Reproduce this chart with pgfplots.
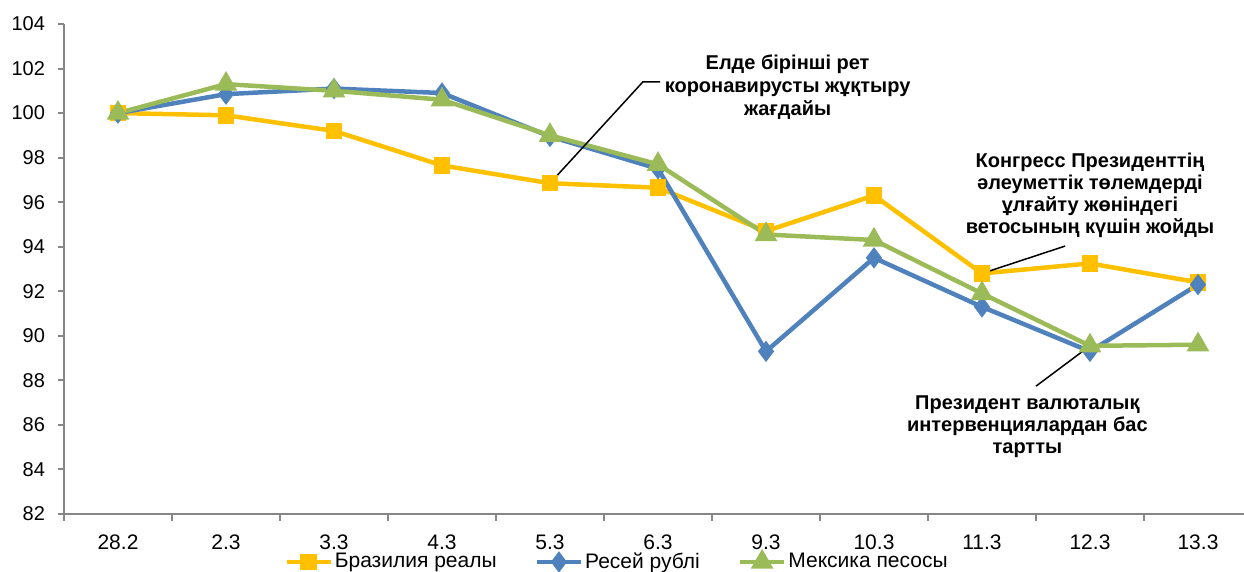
\documentclass[border=0pt]{standalone}
\usepackage{fontspec}
\setmainfont{Liberation Sans}
\usepackage{pgfplots}
\pgfplotsset{compat=1.18}
\definecolor{cBra}{HTML}{FFC000}
\definecolor{cRus}{HTML}{4F81BD}
\definecolor{cMex}{HTML}{9BBB59}
\definecolor{axgray}{HTML}{868686}

\begin{document}
\begin{tikzpicture}[font=\fontsize{10}{12}\selectfont]
\begin{axis}[
  name=ax,
  scale only axis,
  width=590pt, height=245pt,
  xmin=-0.5, xmax=10.426,
  ymin=82, ymax=104,
  ytick={82,84,...,104},
  xtick={0,...,10},
  xticklabels={28.2,2.3,3.3,4.3,5.3,6.3,9.3,10.3,11.3,12.3,13.3},
  minor xtick={-0.5,0.5,...,10.5},
  axis x line*=bottom, axis y line*=left,
  axis line style={axgray, line width=1pt, -},
  tick align=outside,
  major x tick style={draw=none},
  tick style={axgray, line width=1pt},
  major tick length=3pt, minor tick length=3.5pt,
  yticklabel style={font=\fontsize{10}{12}\selectfont, xshift=-3pt},
  xticklabel style={font=\fontsize{10.5}{12}\selectfont, yshift=-4pt},
  /pgf/number format/assume math mode=true,
  clip=false,
  legend style={at={(0.4695,0)}, anchor=center, yshift=-24pt, draw=none, fill=none,
    legend columns=3, font=\fontsize{10.5}{12}\selectfont,
    /tikz/every even column/.append style={column sep=17pt},
    /tikz/every odd column/.append style={column sep=-1pt}},
  legend image code/.code={\draw[mark repeat=2,mark phase=2] plot coordinates {(0pt,0pt)(11pt,0pt)(22pt,0pt)};},
]
\addplot[cBra, line width=2.25pt, mark=square*, mark size=3pt, mark options={solid}] coordinates {
  (0,100) (1,99.9) (2,99.2) (3,97.65) (4,96.85) (5,96.65) (6,94.7) (7,96.3) (8,92.8) (9,93.25) (10,92.4)
};
\addlegendentry{Бразилия реалы}
\addplot[cRus, line width=2.25pt, mark=diamond*, mark size=3.5pt, mark options={solid}] coordinates {
  (0,100) (1,100.85) (2,101.1) (3,100.9) (4,98.95) (5,97.5) (6,89.3) (7,93.5) (8,91.3) (9,89.3) (10,92.3)
};
\addlegendentry{Ресей рублі}
\addplot[cMex, line width=2.25pt, mark=triangle*, mark size=4.3pt, mark options={solid}] coordinates {
  (0,100) (1,101.3) (2,101.0) (3,100.6) (4,99.0) (5,97.7) (6,94.55) (7,94.3) (8,91.9) (9,89.55) (10,89.6)
};
\addlegendentry{Мексика песосы}

% leader lines
\draw[black, line width=0.75pt] (axis cs:4,96.85) -- (axis cs:4.86,101.4) -- (axis cs:5.02,101.4);
\draw[black, line width=0.75pt] (axis cs:8,92.8) -- (axis cs:8.77,94.03);
\draw[black, line width=0.75pt] (axis cs:9,89.55) -- (axis cs:8.5,87.74);

% annotations
\node[font=\fontsize{10}{11.5}\selectfont\bfseries, align=center] at (axis cs:6.2,101.15)
  {Елде бірінші рет\\коронавирусты жұқтыру\\жағдайы};
\node[font=\fontsize{10}{11}\selectfont\bfseries, align=center] at (axis cs:9.0,96.3)
  {Конгресс Президенттің\\әлеуметтік төлемдерді\\ұлғайту жөніндегі\\ветосының күшін жойды};
\node[font=\fontsize{10}{11}\selectfont\bfseries, align=center] at (axis cs:8.42,85.9)
  {Президент валюталық\\интервенциялардан бас\\тартты};
\end{axis}
\pgfresetboundingbox
\path[use as bounding box] ([shift={(-32pt,-29pt)}]ax.south west) rectangle ([shift={(0pt,12pt)}]ax.north east);
\end{tikzpicture}
\end{document}
